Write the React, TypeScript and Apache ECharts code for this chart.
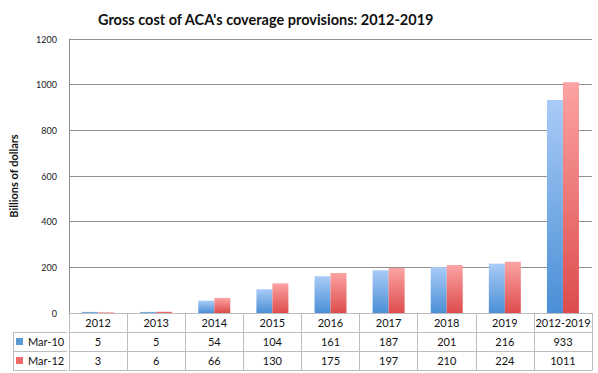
import React, { useEffect, useRef } from "react";
import * as echarts from "echarts";

const categories = ["2012", "2013", "2014", "2015", "2016", "2017", "2018", "2019", "2012-2019"];
const mar10 = [5, 5, 54, 104, 161, 187, 201, 216, 933];
const mar12 = [3, 6, 66, 130, 175, 197, 210, 224, 1011];
const seriesNames = ["Mar-10", "Mar-12"];

const FONT = "Lato";
const ROW_H = 19;
const GRID_BOTTOM = 60;
const TABLE_LEFT = 13;
const LINE_COLOR = "#bdbdbd";

export default function App() {
  const ref = useRef<HTMLDivElement>(null);
  useEffect(() => {
    if (!ref.current) return;
    const chart = echarts.init(ref.current, undefined, { renderer: "svg" });
    const H = 373;
    const zeroY = H - GRID_BOTTOM;
    const gridLeft = 67;

    const blueGrad = new echarts.graphic.LinearGradient(0, 0, 0, 1, [
      { offset: 0, color: "#a9cbf7" },
      { offset: 1, color: "#4a8fd6" },
    ]);
    const redGrad = new echarts.graphic.LinearGradient(0, 0, 0, 1, [
      { offset: 0, color: "#fca3a3" },
      { offset: 1, color: "#dd4c4c" },
    ]);

    const rowAxis = (offset: number, formatter: any, showLabel: boolean, showTick: boolean) => ({
      type: "category",
      data: categories,
      position: "bottom",
      offset,
      gridIndex: 0,
      axisLine: { show: true, lineStyle: { color: LINE_COLOR, width: 1 } },
      axisTick: { show: showTick, interval: 0, length: ROW_H, inside: false, lineStyle: { color: LINE_COLOR } },
      axisLabel: {
        show: showLabel,
        interval: 0,
        margin: 4,
        fontFamily: FONT,
        fontSize: 11,
        color: "#111",
        formatter,
      },
    });

    const lineStyle = { stroke: LINE_COLOR, lineWidth: 1 };
    const graphics: any[] = [];
    for (let r = 1; r <= 3; r++) {
      const y = zeroY + r * ROW_H + 0.5;
      graphics.push({ type: "line", shape: { x1: TABLE_LEFT, y1: y, x2: gridLeft, y2: y }, style: lineStyle, silent: true });
    }
    graphics.push({
      type: "line",
      shape: { x1: TABLE_LEFT + 0.5, y1: zeroY + ROW_H, x2: TABLE_LEFT + 0.5, y2: zeroY + 3 * ROW_H + 0.5 },
      style: lineStyle,
      silent: true,
    });

    chart.setOption({
      animation: false,
      backgroundColor: "#fff",
      title: {
        text: "Gross cost of ACA's coverage provisions: 2012-2019",
        left: 93,
        top: 7,
        textStyle: { fontFamily: FONT, fontWeight: "bold", fontSize: 14.5, color: "#111" },
      },
      legend: {
        data: [
          { name: seriesNames[0], itemStyle: { color: "#5b9bd5" } },
          { name: seriesNames[1], itemStyle: { color: "#ef6b6b" } },
        ],
        orient: "vertical",
        left: 16,
        top: zeroY + ROW_H + 3,
        padding: 0,
        icon: "rect",
        itemWidth: 7,
        itemHeight: 7,
        itemGap: 6,
        textStyle: { fontFamily: FONT, fontSize: 11, color: "#111", lineHeight: 13 },
        selectedMode: false,
      },
      grid: { left: gridLeft, right: 6, top: 39, bottom: GRID_BOTTOM },
      xAxis: [
        rowAxis(0, (v: string) => v, true, true),
        rowAxis(ROW_H, (_v: string, i: number) => String(mar10[i]), true, true),
        rowAxis(ROW_H * 2, (_v: string, i: number) => String(mar12[i]), true, true),
        rowAxis(ROW_H * 3, () => "", false, false),
      ],
      yAxis: {
        type: "value",
        min: 0,
        max: 1200,
        interval: 200,
        name: "Billions of dollars",
        nameLocation: "middle",
        nameGap: 50,
        nameTextStyle: { fontFamily: FONT, fontWeight: "bold", fontSize: 11, color: "#111" },
        axisLine: { show: true, lineStyle: { color: "#8f8f8f" } },
        axisTick: { show: false },
        axisLabel: {
          margin: 12,
          fontFamily: FONT,
          fontSize: 9,
          color: "#222",
          formatter: (v: number) => String(v),
        },
        splitLine: { lineStyle: { color: "#8f8f8f", width: 1 } },
      },
      series: [
        {
          name: seriesNames[0],
          type: "bar",
          data: mar10,
          barWidth: 16,
          barGap: "0%",
          itemStyle: { color: blueGrad },
        },
        {
          name: seriesNames[1],
          type: "bar",
          data: mar12,
          barWidth: 16,
          barGap: "0%",
          itemStyle: { color: redGrad },
        },
      ],
      graphic: graphics,
    });
    return () => chart.dispose();
  }, []);
  return <div ref={ref} style={{ width: 598, height: 373, position: "absolute", left: 0, top: 0 }} />;
}
